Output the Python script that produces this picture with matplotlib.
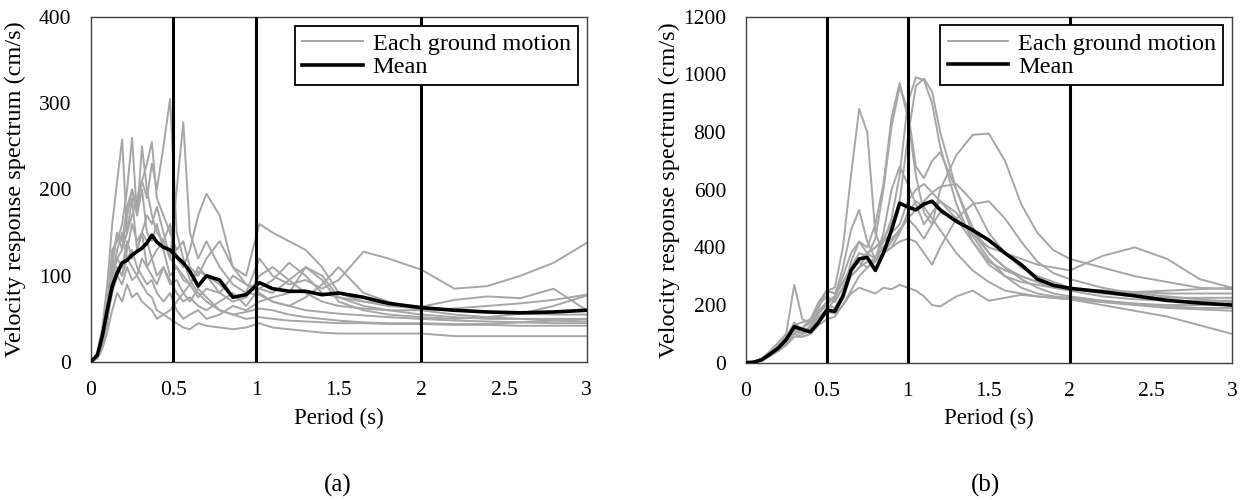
import matplotlib.pyplot as plt
import numpy as np

# ----------------------- data -----------------------
# (a) periods (s)
period_a = [0, 0.04, 0.07, 0.1, 0.13, 0.16, 0.19, 0.22, 0.25, 0.28, 0.31, 0.34, 0.37, 0.4,
            0.44, 0.48, 0.52, 0.56, 0.6, 0.65, 0.7, 0.78, 0.86, 0.94, 1.02, 1.1, 1.2, 1.3,
            1.4, 1.5, 1.65, 1.8, 2.0, 2.2, 2.4, 2.6, 2.8, 3.0]

# (a) velocity response of each ground motion (cm/s)
gm_a = [
    [0, 5, 20, 60, 120, 150, 130, 170, 200, 180, 210, 190, 230, 200, 250, 305, 150, 120, 95, 80,
     70, 60, 55, 50, 52, 50, 48, 47, 46, 45, 45, 44, 44, 43, 43, 42, 42, 42],
    [0, 5, 25, 50, 90, 110, 100, 130, 160, 140, 150, 170, 160, 180, 150, 120, 200, 278, 150, 120,
     140, 110, 90, 80, 78, 70, 65, 60, 58, 56, 54, 52, 50, 48, 47, 46, 45, 45],
    [0, 10, 40, 90, 160, 210, 258, 150, 190, 130, 150, 110, 120, 100, 110, 90, 95, 80, 70, 85,
     75, 60, 55, 58, 62, 60, 55, 52, 50, 48, 46, 45, 45, 44, 44, 46, 48, 50],
    [0, 8, 30, 70, 130, 140, 160, 200, 260, 170, 200, 150, 140, 160, 130, 100, 110, 95, 90, 105,
     100, 80, 70, 75, 100, 110, 95, 80, 70, 65, 62, 60, 60, 62, 65, 68, 72, 78],
    [0, 6, 25, 55, 110, 150, 140, 180, 200, 170, 250, 200, 170, 150, 140, 160, 120, 110, 130, 170,
     195, 170, 110, 90, 85, 80, 95, 110, 100, 75, 65, 60, 55, 52, 50, 50, 48, 47],
    [0, 5, 20, 50, 100, 120, 130, 150, 170, 190, 210, 230, 255, 190, 170, 150, 130, 140, 110, 100,
     120, 140, 110, 100, 160, 150, 140, 130, 110, 80, 70, 65, 62, 60, 58, 56, 55, 55],
    [0, 6, 30, 60, 100, 120, 110, 140, 120, 130, 150, 140, 120, 130, 140, 120, 110, 100, 90, 110,
     100, 90, 75, 80, 120, 100, 90, 95, 85, 95, 128, 120, 107, 85, 88, 100, 115, 138],
    [0, 5, 22, 50, 80, 100, 90, 110, 95, 100, 120, 110, 100, 90, 110, 95, 80, 70, 75, 65,
     60, 70, 80, 65, 85, 95, 115, 100, 80, 75, 70, 68, 64, 72, 76, 74, 85, 60],
    [0, 4, 15, 35, 60, 80, 70, 90, 75, 80, 70, 65, 60, 50, 55, 50, 45, 40, 38, 45,
     42, 40, 38, 40, 45, 40, 38, 36, 34, 33, 33, 33, 33, 30, 30, 30, 30, 30],
    [0, 5, 20, 45, 90, 110, 100, 120, 130, 110, 100, 90, 95, 80, 70, 80, 60, 50, 55, 60,
     50, 55, 65, 60, 70, 75, 80, 110, 95, 70, 60, 55, 52, 50, 52, 56, 65, 77],
    [0, 5, 22, 55, 100, 130, 150, 120, 110, 100, 90, 80, 75, 60, 55, 60, 70, 80, 90, 75,
     85, 80, 100, 90, 80, 70, 65, 75, 90, 110, 80, 70, 60, 55, 52, 50, 50, 50],
]
mean_a = [0, 8, 30, 60, 88, 103, 115, 118, 124, 128, 132, 138, 147, 139, 133, 130, 122, 115, 105, 88,
          100, 95, 75, 78, 92, 85, 82, 82, 78, 80, 75, 68, 63, 60, 58, 57, 58, 60]

# (b) periods (s)
period_b = [0, 0.05, 0.1, 0.15, 0.2, 0.25, 0.3, 0.35, 0.4, 0.45, 0.5, 0.55, 0.6, 0.65, 0.7, 0.75,
            0.8, 0.85, 0.9, 0.95, 1.0, 1.05, 1.1, 1.15, 1.2, 1.3, 1.4, 1.5, 1.6, 1.7, 1.8, 1.9,
            2.0, 2.2, 2.4, 2.6, 2.8, 3.0]

gm_b = [
    [0, 2, 8, 25, 50, 70, 100, 120, 140, 170, 200, 230, 280, 320, 350, 330, 360, 420, 500, 650,
     900, 990, 980, 900, 750, 550, 420, 340, 300, 280, 270, 260, 255, 250, 245, 240, 240, 240],
    [0, 2, 10, 30, 55, 80, 110, 100, 120, 160, 180, 220, 260, 300, 330, 380, 400, 430, 480, 560,
     780, 960, 985, 940, 800, 600, 450, 380, 330, 300, 280, 265, 258, 250, 245, 250, 255, 260],
    [0, 3, 12, 35, 60, 90, 140, 110, 120, 180, 200, 190, 240, 350, 420, 400, 480, 620, 850, 970,
     850, 650, 520, 480, 520, 500, 420, 350, 320, 300, 280, 260, 250, 230, 220, 215, 215, 215],
    [0, 2, 10, 30, 60, 85, 120, 100, 130, 200, 230, 210, 260, 330, 380, 370, 430, 600, 820, 955,
     880, 680, 640, 700, 730, 600, 470, 380, 330, 290, 260, 240, 230, 215, 205, 195, 190, 190],
    [0, 2, 10, 30, 55, 80, 130, 120, 150, 200, 250, 260, 400, 650, 880, 800, 450, 380, 400, 450,
     520, 560, 540, 500, 460, 380, 320, 280, 250, 240, 230, 225, 220, 210, 200, 190, 185, 180],
    [0, 3, 15, 40, 70, 100, 270, 150, 140, 190, 250, 240, 300, 380, 420, 380, 360, 400, 430, 460,
     500, 470, 430, 480, 600, 720, 790, 795, 700, 550, 450, 390, 360, 330, 300, 280, 260, 255],
    [0, 2, 10, 28, 50, 75, 110, 120, 150, 210, 250, 240, 280, 330, 360, 380, 400, 420, 450, 480,
     560, 600, 620, 590, 560, 500, 450, 400, 380, 360, 340, 330, 320, 370, 400, 360, 290, 260],
    [0, 2, 8, 25, 45, 65, 100, 90, 100, 140, 170, 180, 230, 300, 330, 350, 360, 380, 400, 420,
     430, 420, 380, 340, 400, 500, 550, 560, 500, 420, 350, 310, 290, 260, 240, 230, 220, 210],
    [0, 2, 8, 25, 45, 70, 110, 100, 110, 150, 180, 170, 200, 240, 260, 250, 240, 260, 255, 270,
     260, 250, 230, 200, 195, 230, 250, 215, 225, 235, 230, 225, 220, 200, 180, 160, 130, 100],
    [0, 2, 10, 30, 55, 85, 130, 140, 150, 180, 210, 230, 330, 460, 530, 420, 360, 450, 600, 680,
     620, 550, 480, 520, 560, 520, 440, 360, 300, 260, 240, 230, 225, 215, 205, 200, 200, 200],
    [0, 2, 8, 22, 40, 60, 90, 90, 100, 130, 150, 160, 200, 250, 300, 330, 350, 380, 420, 460,
     500, 530, 560, 590, 610, 620, 560, 450, 380, 330, 300, 280, 260, 240, 230, 225, 225, 225],
]
mean_b = [0, 2, 10, 30, 50, 80, 125, 115, 107, 140, 183, 178, 230, 320, 360, 365, 320, 380, 460, 553,
          540, 530, 550, 560, 530, 490, 460, 425, 380, 340, 290, 268, 258, 246, 232, 216, 207, 200]

ref_periods = [0.5, 1, 2]
x_ticks = [0, 0.5, 1, 1.5, 2, 2.5, 3]
x_tick_labels = ['0', '0.5', '1', '1.5', '2', '2.5', '3']
y_ticks_a = [0, 100, 200, 300, 400]
y_ticks_b = [0, 200, 400, 600, 800, 1000, 1200]

# ----------------------- figure -----------------------
plt.rcParams['font.family'] = ['Liberation Serif', 'DejaVu Serif']
gray = '#a6a6a6'
spine_color = '#404040'

fig = plt.figure(figsize=(12.53, 5.0), dpi=100)
ax_a = fig.add_axes([0.0724, 0.276, 0.3958, 0.690])
ax_b = fig.add_axes([0.5951, 0.2746, 0.3881, 0.692])


def draw_panel(ax, periods, gms, mean, y_ticks, ylab_x):
    for k, gm in enumerate(gms):
        ax.plot(periods, gm, color=gray, lw=1.4, zorder=2,
                label='Each ground motion' if k == 0 else None)
    ax.plot(periods, mean, color='black', lw=2.6, zorder=4, label='Mean')
    for t in ref_periods:
        ax.axvline(t, color='black', lw=2.2, zorder=3)
    ax.set_xlim(0, 3)
    ax.set_ylim(y_ticks[0], y_ticks[-1])
    ax.set_xticks(x_ticks)
    ax.set_xticklabels(x_tick_labels)
    ax.set_yticks(y_ticks)
    ax.tick_params(length=0, labelsize=15.5, pad=14)
    for s in ax.spines.values():
        s.set_color(spine_color)
        s.set_linewidth(1.0)
    ax.set_xlabel('Period (s)', fontsize=16.5, labelpad=5)
    ax.set_ylabel('Velocity response spectrum (cm/s)', fontsize=17.5)
    ax.yaxis.set_label_coords(ylab_x, 0.5)
    leg = ax.legend(loc='upper right', fontsize=17.5, frameon=True, fancybox=False,
                    borderaxespad=0.35, handlelength=2.5, labelspacing=0.05,
                    borderpad=0.3, handletextpad=0.4)
    leg.get_frame().set_edgecolor('black')
    leg.get_frame().set_linewidth(1.3)
    leg.get_frame().set_alpha(1)


draw_panel(ax_a, period_a, gm_a, mean_a, y_ticks_a, -0.13)
draw_panel(ax_b, period_b, gm_b, mean_b, y_ticks_b, -0.135)

fig.text(338 / 1253, 1 - 485 / 500, '(a)', fontsize=18, ha='center', va='center')
fig.text(985 / 1253, 1 - 485 / 500, '(b)', fontsize=18, ha='center', va='center')

plt.savefig('out.png', dpi=100)
